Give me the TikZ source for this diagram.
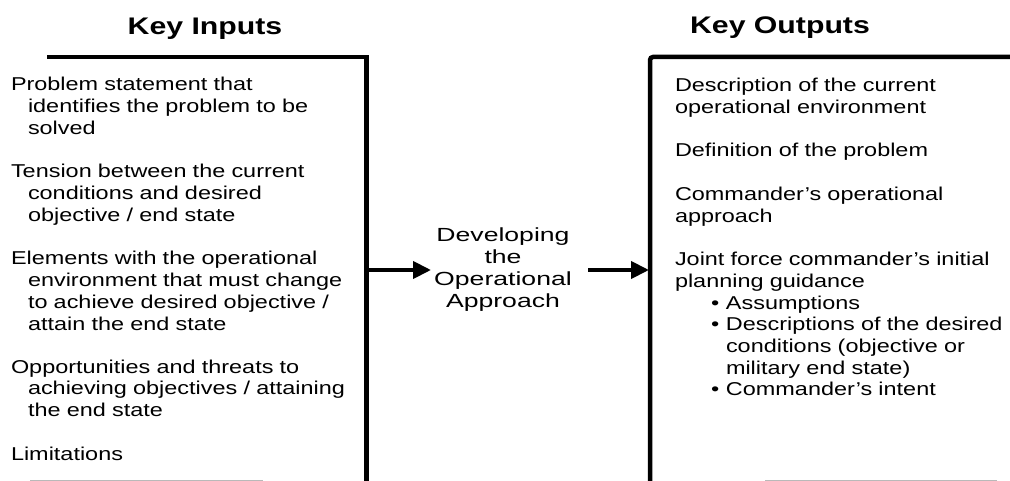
\documentclass[tikz,border=0pt]{standalone}
\usepackage{fontspec}
\setmainfont{Liberation Sans}[FakeStretch=1.26]
\newfontfamily\midfont{Liberation Sans}[FakeStretch=1.4]
\usetikzlibrary{arrows.meta}
\newcommand{\ind}{\hspace*{17pt}}
\newcommand{\blt}{\makebox[15pt][l]{\textbullet}}
\tikzset{
    every node/.style={inner sep=0pt, outer sep=0pt}
}
\tikzset{
    item/.style={anchor=base west, text width=380pt, align=left, font=\fontsize{18.6}{21.7}\selectfont},
    head/.style={anchor=base, font=\fontsize{24}{28}\selectfont\bfseries},
    bar/.style={line width=4.5pt},
    arr/.style={line width=4pt, -{Triangle[length=18pt,width=17pt]}}
}

\begin{document}
\begin{tikzpicture}[x=1pt, y=-1pt]
        \useasboundingbox (0, 0) rectangle (1010, 481);
        \node (hin) [head] at (205, 35) {Key Inputs};
        \node (hout) [head] at (780, 34) {Key Outputs};
        \draw [bar] (47, 57) -- (366.5, 57) -- (366.5, 484);
        \draw [bar, rounded corners=3pt] (650, 484) -- (650, 57) -- (1012, 57);
        \node (in1) [item] at (11, 91) {Problem statement that\\\ind identifies the problem to be\\\ind solved};
        \node (in2) [item] at (11, 178) {Tension between the current\\\ind conditions and desired\\\ind objective / end state};
        \node (in3) [item] at (11, 265) {Elements with the operational\\\ind environment that must change\\\ind to achieve desired objective /\\\ind attain the end state};
        \node (in4) [item] at (11, 373) {Opportunities and threats to\\\ind achieving objectives / attaining\\\ind the end state};
        \node (in5) [item] at (11, 460) {Limitations};
        \node (dev) [item, anchor=base, text width=200pt, align=center, font=\fontsize{19}{22}\selectfont\midfont] at (503, 242) {Developing\\the\\Operational\\Approach};
        \node (out1) [item] at (675, 92) {Description of the current\\operational environment};
        \node (out2) [item] at (675, 157) {Definition of the problem};
        \node (out3) [item] at (675, 200.5) {Commander's operational\\approach};
        \node (out4) [item] at (675, 265.6) {Joint force commander's initial\\planning guidance};
        \node (sub) [item] at (711, 309) {\blt Assumptions\\\blt Descriptions of the desired\\\hspace*{15pt}conditions (objective or\\\hspace*{15pt}military end state)\\\blt Commander's intent};
        \coordinate (inR) at (366, 270);
        \coordinate (devL) at (431, 270);
        \coordinate (devR) at (588, 270);
        \coordinate (outL) at (649, 270);
        \draw [arr] (inR) -- (devL);
        \draw [arr] (devR) -- (outL);
        \draw [gray!55, line width=2pt] (30, 480.5) -- (263, 480.5);
        \draw [gray!55, line width=2pt] (765, 480.5) -- (997, 480.5);
\end{tikzpicture}
\end{document}
